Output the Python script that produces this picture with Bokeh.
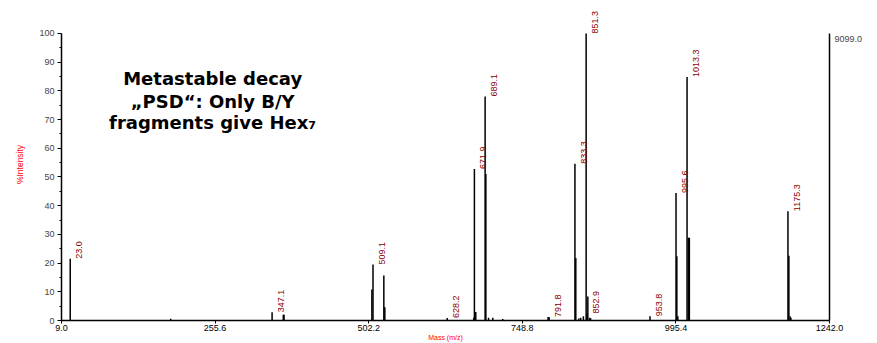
import math
from bokeh.plotting import figure
from bokeh.models import (Range1d, LinearAxis, FixedTicker, NumeralTickFormatter,
                          Label, Title, ColumnDataSource)
from bokeh.core.properties import value
from bokeh.embed import file_html
from bokeh.resources import INLINE

# ---- data ----
peak_mz = [23.0, 184.3, 347.1, 365.1, 366.3, 507.3, 509.1, 526.5, 528.1, 628.2,
           670.9, 671.9, 674.1, 689.1, 690.3, 694.6, 701.4, 717.4, 790.2, 791.8,
           833.3, 834.7, 839.5, 842.5, 846.9, 851.3, 852.9, 854.0, 856.8, 858.5,
           953.8, 995.6, 996.9, 998.5, 1013.3, 1015.5, 1017.0, 1175.3, 1176.8,
           1178.7, 1180.0]
peak_int = [21.5, 0.6, 2.9, 2.0, 2.0, 10.8, 19.5, 15.7, 4.6, 0.9,
            1.0, 52.8, 3.0, 78.0, 51.0, 1.0, 1.0, 0.5, 1.2, 1.2,
            54.6, 21.8, 0.7, 1.0, 1.5, 100.0, 2.4, 8.4, 1.0, 0.8,
            1.5, 44.4, 22.4, 1.5, 84.8, 28.8, 28.8, 38.1, 22.6,
            1.5, 1.0]
label_text = ["23.0", "347.1", "509.1", "628.2", "671.9", "689.1", "791.8",
              "833.3", "851.3", "852.9", "953.8", "995.6", "1013.3", "1175.3"]
label_int = [21.5, 2.9, 19.5, 0.9, 52.8, 78.0, 1.2,
             54.6, 100.0, 2.4, 1.5, 44.4, 84.8, 38.1]
x_ticks = [9.0, 255.6, 502.2, 748.8, 995.4, 1242.0]
y_ticks = [0, 10, 20, 30, 40, 50, 60, 70, 80, 90, 100]
note_lines = ["Metastable decay", "\u201ePSD\u201c: Only B/Y", "fragments give Hex\u2087"]
max_abs = "9099.0"
x_title = "Mass (m/z)"
y_title = "%Intensity"

FONT = "Liberation Sans"

p = figure(width=877, height=343, output_backend="svg", toolbar_location=None,
           x_range=Range1d(9.0, 1242.0), y_range=Range1d(0, 108.7),
           min_border_left=61, min_border_right=48, min_border_top=8,
           min_border_bottom=23, x_axis_type=None, y_axis_type=None)
p.outline_line_color = None
p.xgrid.visible = False
p.ygrid.visible = False
p.background_fill_color = "white"

# bottom axis
xa = LinearAxis(ticker=FixedTicker(ticks=x_ticks, minor_ticks=[]),
                formatter=NumeralTickFormatter(format="0.0"))
xa.major_tick_out = 3
xa.major_tick_in = 0
xa.minor_tick_out = 0
xa.major_label_standoff = 1
xa.major_label_text_font = FONT
xa.major_label_text_font_size = "9px"
xa.major_label_text_color = "black"
xa.axis_line_width = 1.5
xa.axis_label = x_title
xa.axis_label_text_font = FONT
xa.axis_label_text_font_size = "7px"
xa.axis_label_text_font_style = "normal"
xa.axis_label_text_color = "#ff0000"
xa.axis_label_standoff = 0
p.add_layout(xa, "below")

# left axis
ya = LinearAxis(ticker=FixedTicker(ticks=y_ticks,
                                   minor_ticks=[t + 5 for t in y_ticks[:-1]]),
                bounds=(0, 100))
ya.major_tick_out = 4
ya.major_tick_in = 0
ya.minor_tick_out = 2
ya.minor_tick_in = 0
ya.major_label_standoff = 3
ya.major_label_text_font = FONT
ya.major_label_text_font_size = "9px"
ya.axis_line_width = 1.5
p.add_layout(ya, "left")

# y title as a side title
p.add_layout(Title(text=y_title, align="center", offset=-13, standoff=24,
                   text_font=FONT, text_font_size="8.5px",
                   text_font_style="normal", text_color="#ff0000"), "left")

# right axis: line plus the absolute intensity of the base peak
ra = LinearAxis(ticker=FixedTicker(ticks=[98], minor_ticks=[]), bounds=(0, 100))
ra.major_tick_out = 0
ra.major_tick_in = 0
ra.major_label_overrides = {98: max_abs}
ra.major_label_standoff = 5
ra.major_label_text_font = FONT
ra.major_label_text_font_size = "9px"
ra.axis_line_width = 1.5
p.add_layout(ra, "right")

# peaks
src = ColumnDataSource(dict(x=peak_mz, y=peak_int, y0=[0] * len(peak_mz)))
p.segment(x0="x", y0="y0", x1="x", y1="y", source=src, line_color="black",
          line_width=1.5)

# peak labels
lsrc = ColumnDataSource(dict(x=[float(t) for t in label_text], y=label_int,
                             t=label_text))
p.text(x="x", y="y", text="t", source=lsrc, angle=math.pi / 2, x_offset=9,
       text_align="left", text_baseline="middle", text_color="#8b0000",
       text_font=value(FONT), text_font_size="9px")

# note block
for line, yv in zip(note_lines, [84.3, 76.3, 69.0]):
    p.add_layout(Label(x=251.7, y=yv, text=line, text_align="center",
                       text_baseline="alphabetic", text_font="DejaVu Sans",
                       text_font_size="18px", text_font_style="bold",
                       text_color="black"))

open("out.html", "w").write(file_html(p, INLINE))
